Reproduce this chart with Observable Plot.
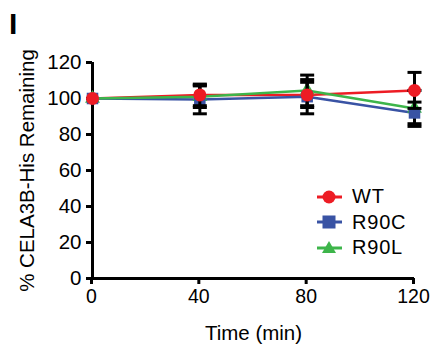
<!DOCTYPE html>
<html><head><meta charset="utf-8">
<script src="https://cdn.jsdelivr.net/npm/d3@7"></script>
<script src="https://cdn.jsdelivr.net/npm/@observablehq/plot@0.6"></script>
<style>
html,body{margin:0;padding:0;background:#fff;}
#wrap{position:relative;width:430px;height:344px;font-family:"Liberation Sans",Arial,sans-serif;}
#panel{position:absolute;left:9px;top:9px;font-size:30px;font-weight:bold;line-height:1;}
#legend{position:absolute;left:316px;top:184px;font-size:20px;letter-spacing:0.8px;}
.row{display:flex;align-items:center;height:25.5px;}
.row svg{margin-right:9px;}
</style></head>
<body><div id="wrap"><div id="panel">I</div><div id="legend"></div></div>
<script>
const times = [0, 40, 80, 120];
const seriesNames = ["WT", "R90C", "R90L"];
const wtMean = [100, 102, 102, 104.5];
const wtErr = [0, 6, 7, 10];
const r90cMean = [100, 99.5, 101, 92];
const r90cErr = [0, 8, 9.5, 6];
const r90lMean = [100, 101, 104.5, 94.5];
const r90lErr = [0, 6, 8.5, 10];
const yTicks = [0, 20, 40, 60, 80, 100, 120];
const colors = ["#ED1C24", "#3953A4", "#3DB54A"];
const symbols = ["circle", "square", "triangle"];

const means = [wtMean, r90cMean, r90lMean];
const errs = [wtErr, r90cErr, r90lErr];
const data = [];
seriesNames.forEach((s, i) => times.forEach((t, j) => data.push({
  series: s, time: t, mean: means[i][j], lo: means[i][j] - errs[i][j], hi: means[i][j] + errs[i][j]
})));
const capSymbol = {draw(ctx, size) { const r = 7; ctx.moveTo(-r, 0); ctx.lineTo(r, 0); }};

// per-series layering: error bars then markers, drawn R90L, R90C, WT
const seriesMarks = seriesNames.slice().reverse().flatMap(s => {
  const sd = data.filter(d => d.series === s);
  const ed = sd.filter(d => d.hi > d.lo);
  return [
    Plot.ruleX(ed, {x: "time", y1: "lo", y2: "hi", stroke: "#000", strokeWidth: 3}),
    Plot.dot(ed, {x: "time", y: "hi", symbol: () => capSymbol, stroke: "#000", strokeWidth: 3, r: 7}),
    Plot.dot(ed, {x: "time", y: "lo", symbol: () => capSymbol, stroke: "#000", strokeWidth: 3, r: 7}),
    Plot.dot(sd, {x: "time", y: "mean", fill: "series", symbol: "series", r: s === "R90L" ? 5.5 : 6.5, stroke: "none"})
  ];
});

const font = '"Liberation Sans", Arial, sans-serif';
const plot = Plot.plot({
  width: 430, height: 344,
  marginLeft: 92, marginRight: 16, marginTop: 62, marginBottom: 66,
  style: {fontFamily: font, fontSize: "20px", color: "#000", background: "transparent"},
  x: {domain: [0, 120]},
  y: {domain: [0, 120]},
  color: {domain: seriesNames, range: colors},
  symbol: {domain: seriesNames, range: symbols},
  marks: [
    Plot.axisX({ticks: times, tickSize: 6, tickPadding: 5, strokeWidth: 3, dx: -1, label: null, fontSize: 19.5}),
    Plot.axisX({ticks: [], label: "Time (min)", labelAnchor: "center", labelArrow: "none", labelOffset: 61, fontSize: 20.5}),
    Plot.axisY({ticks: yTicks, tickSize: 6, tickPadding: 5, strokeWidth: 3, label: "% CELA3B-His Remaining", labelAnchor: "center", labelArrow: "none", labelOffset: 73, fontSize: 20.5}),
    Plot.ruleX([0], {stroke: "#000", strokeWidth: 3}),
    Plot.ruleY([0], {stroke: "#000", strokeWidth: 3}),
    Plot.line(data, {x: "time", y: "mean", z: "series", stroke: "series", strokeWidth: 2.5}),
    ...seriesMarks
  ]
});
document.getElementById("wrap").prepend(plot);
plot.style.position = "absolute"; plot.style.left = "0"; plot.style.top = "0";

const leg = document.getElementById("legend");
const sym = [
  c => `<circle cx="13" cy="10" r="6.5" fill="${c}"/>`,
  c => `<rect x="6.5" y="3.5" width="13" height="13" fill="${c}"/>`,
  c => `<path d="M13,3 L20,15 L6,15Z" fill="${c}"/>`
];
seriesNames.forEach((s, i) => {
  const row = document.createElement("div");
  row.className = "row";
  row.innerHTML = `<svg width="27" height="20"><line x1="1" x2="26" y1="10" y2="10" stroke="${colors[i]}" stroke-width="3"/>${sym[i](colors[i])}</svg><span>${s}</span>`;
  leg.appendChild(row);
});
</script></body></html>
